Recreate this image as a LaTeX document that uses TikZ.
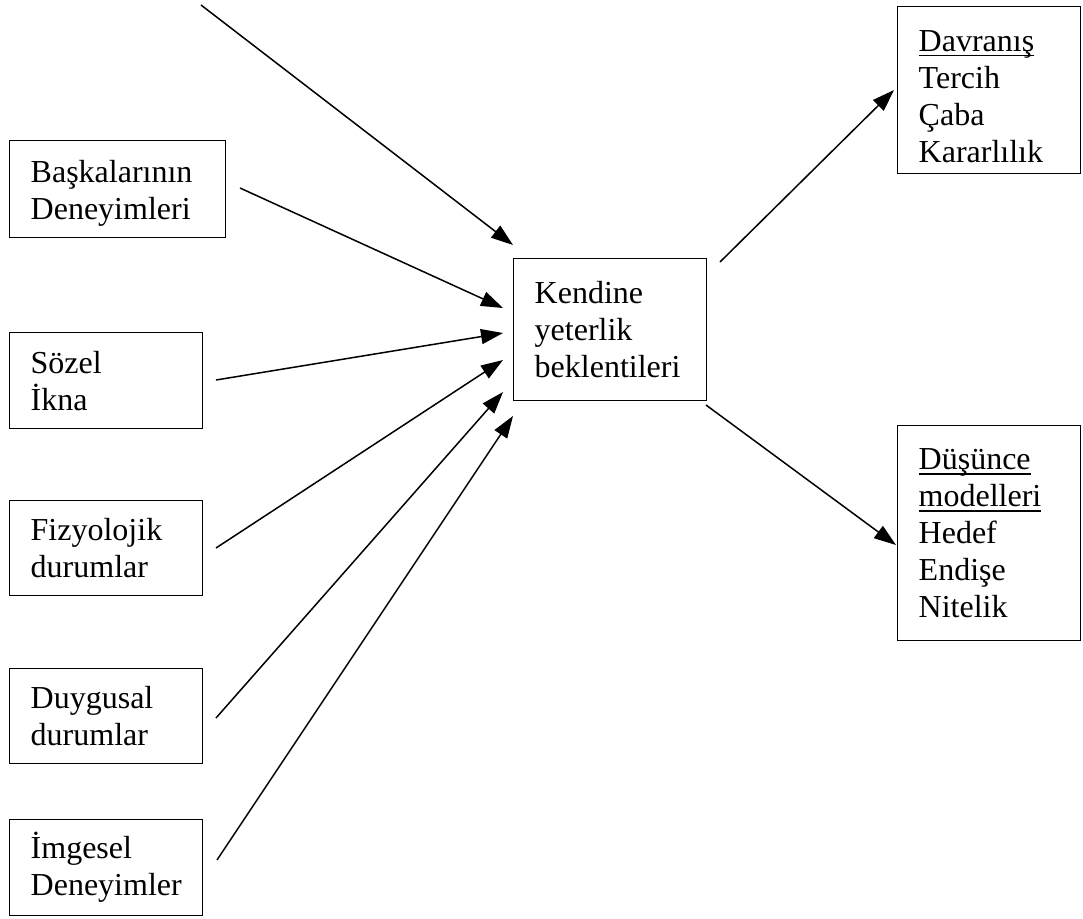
\documentclass[tikz,border=0pt]{standalone}
\usepackage{fontspec}
\setmainfont{Liberation Serif}
\usetikzlibrary{arrows.meta}
% underline set a little below the baseline, clear of the cedillas
\newcommand\ulword[1]{\leavevmode\setbox0\hbox{#1}\rlap{\raisebox{-5pt}{\rule{\wd0}{1.4pt}}}\box0}
\begin{document}
\begin{tikzpicture}[x=1pt,y=-1pt,
  box/.style={draw, line width=1.4pt, anchor=north west, inner xsep=21pt, inner ysep=0pt,
    align=left, font=\fontsize{32}{37}\selectfont},
  link/.style={line width=1.5pt, -{Triangle[length=22pt,width=15pt]}}]
\useasboundingbox (0,0) rectangle (1083,918);

% sources
\node[box, text width=174pt, minimum height=97pt] (bask) at (9,140) {\rule{0pt}{30pt}Başkalarının\\Deneyimleri};
\node[box, text width=151pt, minimum height=96pt] (soz) at (9,332) {Sözel\\İkna};
\node[box, text width=151pt, minimum height=95pt] (fiz) at (9,500) {Fizyolojik\\durumlar};
\node[box, text width=151pt, minimum height=95pt] (duy) at (9,668) {Duygusal\\durumlar};
\node[box, text width=151pt, minimum height=96pt] (img) at (9,819) {İmgesel\\Deneyimler};

% centre
\node[box, text width=151pt, minimum height=142pt] (ken) at (513,258) {Kendine\\yeterlik\\beklentileri};

% outcomes
\node[box, text width=141pt, minimum height=167pt] (dav) at (897,6) {\rule{0pt}{33pt}\ulword{Davranış}\\Tercih\\Çaba\\Kararlılık};
\node[box, text width=141pt, minimum height=215pt] (dus) at (897,425) {\ulword{Düşünce}\\\ulword{modelleri}\\Hedef\\Endişe\\Nitelik};

% connector end points
\coordinate (top0) at (201,5);
\coordinate (s1) at (240,188);
\coordinate (s2) at (216,380);
\coordinate (s3) at (216,548);
\coordinate (s4) at (216,718);
\coordinate (s5) at (217,860);
\coordinate (t0) at (513,245);
\coordinate (t1) at (503,308);
\coordinate (t2) at (503,333);
\coordinate (t3) at (503,360);
\coordinate (t4) at (503,392);
\coordinate (t5) at (513,416);
\coordinate (o1) at (720,262);
\coordinate (o2) at (706,405);
\coordinate (d1) at (894,90);
\coordinate (d2) at (896,545);

\draw[link] (top0) -- (t0);
\draw[link] (s1) -- (t1);
\draw[link] (s2) -- (t2);
\draw[link] (s3) -- (t3);
\draw[link] (s4) -- (t4);
\draw[link] (s5) -- (t5);
\draw[link] (o1) -- (d1);
\draw[link] (o2) -- (d2);
\end{tikzpicture}
\end{document}
